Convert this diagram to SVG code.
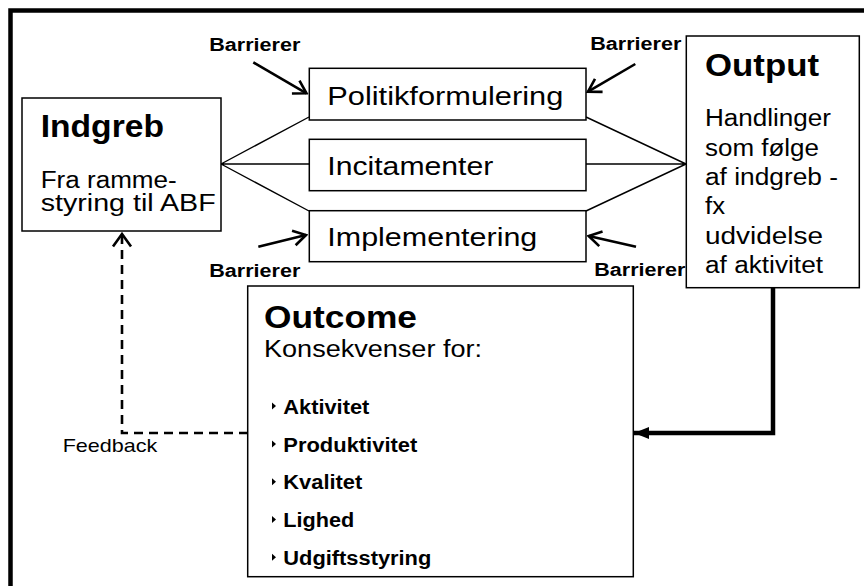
<svg xmlns="http://www.w3.org/2000/svg" width="864" height="586" viewBox="0 0 864 586">
<defs>
<style>
.box{fill:#fff;stroke:#000;stroke-width:1.5}
.fan{fill:none;stroke:#000;stroke-width:1.4}
.bar{fill:none;stroke:#000;stroke-width:2.6}
.t{font-family:"Liberation Sans",Arial,sans-serif;fill:#000}
.h{font-weight:bold;font-size:30.5px}
.b{font-size:23.5px}
.m{font-size:26.5px}
.bl{font-weight:bold;font-size:19.5px}
.br{font-weight:bold;font-size:18px}
.tri{fill:#000}
</style>
<marker id="open" markerUnits="userSpaceOnUse" viewBox="0 0 16 18" markerWidth="16" markerHeight="18" refX="14" refY="9" orient="auto">
<path d="M1.5,1.5 L14,9 L1.5,16.5" fill="none" stroke="#000" stroke-width="2.6"/>
</marker>
<marker id="fb" markerUnits="userSpaceOnUse" viewBox="0 0 16 22" markerWidth="16" markerHeight="22" refX="14" refY="11" orient="auto">
<path d="M1.5,2 L14,11 L1.5,20" fill="none" stroke="#000" stroke-width="2.6" stroke-dasharray="none"/>
</marker>
<marker id="solid" markerUnits="userSpaceOnUse" viewBox="0 0 16 12" markerWidth="16" markerHeight="12" refX="15" refY="6" orient="auto">
<path d="M0,0 L15,6 L0,12 Z" fill="#000"/>
</marker>
</defs>
<rect x="0" y="0" width="864" height="586" fill="#fff"/>
<rect x="10.5" y="10.5" width="870" height="600" fill="none" stroke="#000" stroke-width="4.5"/>

<g id="connectors">
<path class="fan" d="M221,164 L309,117 M221,164 L309,164 M221,164 L309,211"/>
<path class="fan" d="M686,164 L586,117 M686,164 L586,164 M686,164 L586,211"/>
<line class="bar" x1="253.3" y1="62.3" x2="306.5" y2="93.3" marker-end="url(#open)"/>
<line class="bar" x1="635.3" y1="64" x2="588" y2="91.7" marker-end="url(#open)"/>
<line class="bar" x1="258.3" y1="246.7" x2="306" y2="235" marker-end="url(#open)"/>
<line class="bar" x1="636" y1="246.7" x2="588.7" y2="236" marker-end="url(#open)"/>
<path d="M773,288 V433 H634" fill="none" stroke="#000" stroke-width="4.5" marker-end="url(#solid)"/>
<path d="M248,433 H122 V234" fill="none" stroke="#000" stroke-width="2.6" stroke-dasharray="9,6" marker-end="url(#fb)"/>
<text class="t" x="62.7" y="452" font-size="19" textLength="94.7" lengthAdjust="spacingAndGlyphs">Feedback</text>
</g>

<g id="barrierer">
<text class="t br" x="209.3" y="50.5" textLength="91" lengthAdjust="spacingAndGlyphs">Barrierer</text>
<text class="t br" x="590.3" y="50" textLength="91" lengthAdjust="spacingAndGlyphs">Barrierer</text>
<text class="t br" x="209.3" y="276.5" textLength="91" lengthAdjust="spacingAndGlyphs">Barrierer</text>
<text class="t br" x="594.3" y="275.5" textLength="91" lengthAdjust="spacingAndGlyphs">Barrierer</text>
</g>

<g id="indgreb">
<rect class="box" x="22" y="98" width="199" height="133"/>
<text class="t h" x="40.7" y="137" textLength="123.3" lengthAdjust="spacingAndGlyphs">Indgreb</text>
<text class="t b" x="40.7" y="187.5" textLength="136" lengthAdjust="spacingAndGlyphs">Fra ramme-</text>
<text class="t b" x="40.7" y="210.5" textLength="175" lengthAdjust="spacingAndGlyphs">styring til ABF</text>
</g>

<g id="politikformulering">
<rect class="box" x="309.3" y="68.3" width="276.7" height="51.7"/>
<text class="t m" x="327.3" y="104.5" textLength="236" lengthAdjust="spacingAndGlyphs">Politikformulering</text>
</g>

<g id="incitamenter">
<rect class="box" x="309.3" y="139.3" width="276.7" height="51.4"/>
<text class="t m" x="327.3" y="175.2" textLength="166" lengthAdjust="spacingAndGlyphs">Incitamenter</text>
</g>

<g id="implementering">
<rect class="box" x="309.3" y="210.7" width="276.7" height="51"/>
<text class="t m" x="327.3" y="245.7" textLength="210" lengthAdjust="spacingAndGlyphs">Implementering</text>
</g>

<g id="output">
<rect class="box" x="686.3" y="36" width="173" height="251.7"/>
<text class="t h" x="705" y="76.3" textLength="114" lengthAdjust="spacingAndGlyphs">Output</text>
<text class="t b" x="705" y="126.3" textLength="126" lengthAdjust="spacingAndGlyphs">Handlinger</text>
<text class="t b" x="705" y="155.6" textLength="114" lengthAdjust="spacingAndGlyphs">som følge</text>
<text class="t b" x="705" y="184.9" textLength="133" lengthAdjust="spacingAndGlyphs">af indgreb -</text>
<text class="t b" x="705" y="214.2" textLength="20" lengthAdjust="spacingAndGlyphs">fx</text>
<text class="t b" x="705" y="243.5" textLength="118" lengthAdjust="spacingAndGlyphs">udvidelse</text>
<text class="t b" x="705" y="272.8" textLength="118" lengthAdjust="spacingAndGlyphs">af aktivitet</text>
</g>

<g id="outcome">
<rect class="box" x="247.7" y="286" width="385.6" height="290.7"/>
<text class="t h" x="264" y="328" textLength="153" lengthAdjust="spacingAndGlyphs">Outcome</text>
<text class="t b" x="264" y="357" textLength="218" lengthAdjust="spacingAndGlyphs">Konsekvenser for:</text>
<path class="tri" d="M272,402.5 L276,406 L272,409.5 Z"/>
<text class="t bl" x="283.3" y="413.5" textLength="86" lengthAdjust="spacingAndGlyphs">Aktivitet</text>
<path class="tri" d="M272,440.5 L276,444 L272,447.5 Z"/>
<text class="t bl" x="283.3" y="451.5" textLength="134" lengthAdjust="spacingAndGlyphs">Produktivitet</text>
<path class="tri" d="M272,478.2 L276,481.7 L272,485.2 Z"/>
<text class="t bl" x="283.3" y="489.2" textLength="79" lengthAdjust="spacingAndGlyphs">Kvalitet</text>
<path class="tri" d="M272,515.9 L276,519.4 L272,522.9 Z"/>
<text class="t bl" x="283.3" y="526.9" textLength="71" lengthAdjust="spacingAndGlyphs">Lighed</text>
<path class="tri" d="M272,553.7 L276,557.2 L272,560.7 Z"/>
<text class="t bl" x="283.3" y="564.7" textLength="148" lengthAdjust="spacingAndGlyphs">Udgiftsstyring</text>
</g>
</svg>
